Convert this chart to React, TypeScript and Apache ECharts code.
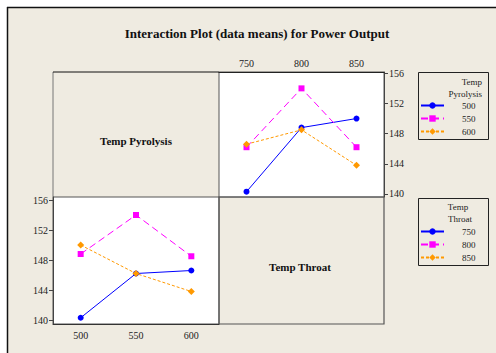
import React, { useEffect, useRef } from "react";
import * as echarts from "echarts";

// Levels
const pyrolysisLevels = ["500", "550", "600"];
const throatLevels = ["750", "800", "850"];
// Data means: Power Output for each Temp Pyrolysis level, by Temp Throat (750, 800, 850)
const meansPyro500 = [140.3, 148.8, 150.0];
const meansPyro550 = [146.2, 154.0, 146.2];
const meansPyro600 = [146.6, 148.5, 143.8];
const yTicks = [140, 144, 148, 152, 156];

const colors = ["#0000FF", "#FF00FF", "#FF9900"];
const symbols = ["circle", "rect", "diamond"];
const symbolSizes = [6, 6, 7];
const dashes: any[] = ["solid", [7, 4], [3, 2]];
const BG = "#EFEBE1";
const SERIF = "'Liberation Serif', 'DejaVu Serif', serif";

export default function App() {
  const ref = useRef<HTMLDivElement>(null);
  useEffect(() => {
    document.body.style.margin = "0";
    const chart = echarts.init(ref.current!, null, { renderer: "svg" });
    const rows = [meansPyro500, meansPyro550, meansPyro600];
    const series: any[] = [];
    // top-right: x = Temp Throat, series = Temp Pyrolysis
    rows.forEach((r, i) => {
      series.push({
        type: "line",
        name: pyrolysisLevels[i],
        xAxisIndex: 0,
        yAxisIndex: 0,
        data: r,
        symbol: symbols[i],
        symbolSize: symbolSizes[i],
        showSymbol: true,
        itemStyle: { color: colors[i] },
        lineStyle: { color: colors[i], width: 1, type: dashes[i] },
      });
    });
    // bottom-left: x = Temp Pyrolysis, series = Temp Throat
    throatLevels.forEach((t, j) => {
      series.push({
        type: "line",
        name: t,
        xAxisIndex: 1,
        yAxisIndex: 1,
        data: rows.map((r) => r[j]),
        symbol: symbols[j],
        symbolSize: symbolSizes[j],
        showSymbol: true,
        itemStyle: { color: colors[j] },
        lineStyle: { color: colors[j], width: 1, type: dashes[j] },
      });
    });
    const labelStyle = { color: "#222", fontFamily: SERIF, fontSize: 10 };
    const legendBase = {
      orient: "vertical",
      left: 420,
      itemWidth: 23,
      itemHeight: 8,
      itemGap: 4,
      padding: 0,
      selectedMode: false,
      textStyle: { color: "#222", fontFamily: SERIF, fontSize: 9, padding: [0, 0, 0, 13] },
    };
    chart.setOption({
      animation: false,
      backgroundColor: BG,
      title: {
        text: "Interaction Plot (data means) for Power Output",
        left: 252,
        top: 22,
        textAlign: "center",
        textStyle: { fontFamily: SERIF, fontSize: 13, fontWeight: "bold", color: "#111" },
      },
      grid: [
        { left: 219, top: 72, width: 165, height: 125, show: true, backgroundColor: "#fff", borderColor: "#555", borderWidth: 1 },
        { left: 53, top: 197, width: 166, height: 127, show: true, backgroundColor: "#fff", borderColor: "#555", borderWidth: 1 },
      ],
      xAxis: [
        {
          type: "category", gridIndex: 0, data: throatLevels, position: "top", boundaryGap: true,
          axisLine: { show: true, lineStyle: { color: "#222" } },
          axisTick: { alignWithLabel: true, length: 4, lineStyle: { color: "#444" } },
          axisLabel: { ...labelStyle, margin: 4 },
        },
        {
          type: "category", gridIndex: 1, data: pyrolysisLevels, position: "bottom", boundaryGap: true,
          axisLine: { show: true, lineStyle: { color: "#333" } },
          axisTick: { alignWithLabel: true, length: 4, lineStyle: { color: "#444" } },
          axisLabel: { ...labelStyle, margin: 6 },
        },
      ],
      yAxis: [
        {
          type: "value", gridIndex: 0, position: "right", min: 139.6, max: 156.17,
          splitLine: { show: false },
          axisLine: { show: true, lineStyle: { color: "#444" } },
          axisTick: { show: true, length: 4, customValues: yTicks, lineStyle: { color: "#444" } },
          axisLabel: { ...labelStyle, margin: 5, customValues: yTicks },
        },
        {
          type: "value", gridIndex: 1, position: "left", min: 139.47, max: 156.4,
          splitLine: { show: false },
          axisLine: { show: true, lineStyle: { color: "#444" } },
          axisTick: { show: true, length: 4, customValues: yTicks, lineStyle: { color: "#444" } },
          axisLabel: { ...labelStyle, margin: 5, customValues: yTicks },
        },
      ],
      legend: [
        { ...legendBase, top: 101, data: pyrolysisLevels },
        { ...legendBase, top: 227, data: throatLevels },
      ],
      graphic: [
        { type: "rect", shape: { x: 0, y: 0, width: 496, height: 7 }, style: { fill: "#fff" }, silent: true },
        { type: "rect", shape: { x: 0, y: 0, width: 7, height: 353 }, style: { fill: "#fff" }, silent: true },
        { type: "line", shape: { x1: 7, y1: 7.5, x2: 496, y2: 7.5 }, style: { stroke: "#111", lineWidth: 1.5 } },
        { type: "line", shape: { x1: 7.5, y1: 7, x2: 7.5, y2: 353 }, style: { stroke: "#111", lineWidth: 1.5 } },
        { type: "line", shape: { x1: 53, y1: 72, x2: 53, y2: 197 }, style: { stroke: "#777", lineWidth: 1 } },
        { type: "line", shape: { x1: 53, y1: 72, x2: 219, y2: 72 }, style: { stroke: "#111", lineWidth: 1 } },
        { type: "rect", shape: { x: 219, y: 197, width: 165, height: 127 }, style: { fill: "none", stroke: "#555", lineWidth: 1.2 } },
        { type: "text", x: 136, y: 141, style: { text: "Temp Pyrolysis", fontFamily: SERIF, fontSize: 11, fontWeight: "bold", fill: "#111", align: "center", verticalAlign: "middle" } },
        { type: "text", x: 300, y: 267, style: { text: "Temp Throat", fontFamily: SERIF, fontSize: 11, fontWeight: "bold", fill: "#111", align: "center", verticalAlign: "middle" } },
        { type: "rect", shape: { x: 418.5, y: 72.5, width: 70, height: 67 }, style: { fill: "none", stroke: "#222", lineWidth: 1 } },
        { type: "text", x: 482, y: 82, style: { text: "Temp", fontFamily: SERIF, fontSize: 9, fill: "#222", align: "right", verticalAlign: "middle" } },
        { type: "text", x: 482, y: 94, style: { text: "Pyrolysis", fontFamily: SERIF, fontSize: 9, fill: "#222", align: "right", verticalAlign: "middle" } },
        { type: "rect", shape: { x: 418.5, y: 198.5, width: 70, height: 67 }, style: { fill: "none", stroke: "#222", lineWidth: 1 } },
        { type: "text", x: 458, y: 207, style: { text: "Temp", fontFamily: SERIF, fontSize: 9, fill: "#222", align: "center", verticalAlign: "middle" } },
        { type: "text", x: 460, y: 219, style: { text: "Throat", fontFamily: SERIF, fontSize: 9, fill: "#222", align: "center", verticalAlign: "middle" } },
      ],
      series,
    });
    return () => chart.dispose();
  }, []);
  return <div ref={ref} style={{ width: 496, height: 353 }} />;
}
